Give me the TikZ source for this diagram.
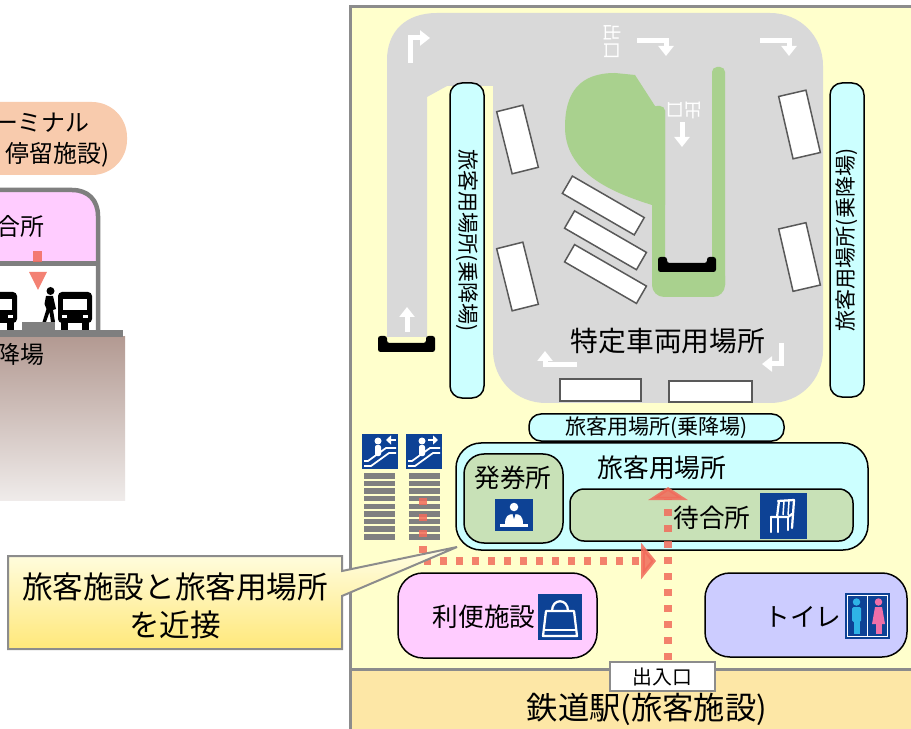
\documentclass[tikz,border=0pt]{standalone}
\usepackage{fontspec}
\setmainfont{Noto Sans CJK JP}
\usepackage{xcolor}
\usetikzlibrary{arrows.meta}

\definecolor{siteyellow}{HTML}{FFFFCC}
\definecolor{roadgray}{HTML}{D9D9D9}
\definecolor{islandgreen}{HTML}{A9D18E}
\definecolor{baygray}{HTML}{595959}
\definecolor{padcyan}{HTML}{CCFFFF}
\definecolor{boothgreen}{HTML}{C8E1B7}
\definecolor{shoppink}{HTML}{FFCCFF}
\definecolor{wclav}{HTML}{CCCCFF}
\definecolor{stationtan}{HTML}{FDE7A6}
\definecolor{framegray}{HTML}{8C8C8C}
\definecolor{iconblue}{HTML}{0D4295}
\definecolor{routered}{HTML}{F26B5B}
\definecolor{termpeach}{HTML}{F8CBAD}
\definecolor{termgray}{HTML}{7F7F7F}
\definecolor{groundtop}{HTML}{B39A92}
\definecolor{groundbot}{HTML}{EFEBEA}
\definecolor{stairgray}{HTML}{808080}
\definecolor{calltop}{HTML}{FFFEE6}
\definecolor{callbot}{HTML}{FFE87A}
\definecolor{manblue}{HTML}{2EB4E6}
\definecolor{ladypink}{HTML}{EE6FA8}

\begin{document}
\begin{tikzpicture}[
  x=0.2mm,y=-0.2mm,
  bay/.style={draw=baygray,fill=white,line width=0.3mm,inner sep=0pt},
  pad/.style={draw=black,fill=padcyan,rounded corners=2.4mm,line width=0.3mm,
              inner sep=0pt,font=\fontsize{12}{14}\selectfont},
  room/.style={draw=black,line width=0.3mm,inner sep=0pt},
  lbl/.style={inner sep=0pt,font=\fontsize{14.6}{17}\selectfont},
  termlbl/.style={inner sep=0pt,anchor=east,font=\fontsize{13.6}{16}\selectfont},
  roadlbl/.style={inner sep=0pt,text=white,font=\fontsize{10.5}{12}\selectfont},
  roadarrow/.style={draw=white,line width=1mm,-{Triangle[length=2mm,width=3mm]}},
  route/.style={draw=routered,opacity=0.85,line width=1.5mm,dash pattern=on 1.4mm off 1.8mm},
  stopbar/.style={fill=black,rounded corners=0.5mm},
  busfront/.pic={
    \fill[rounded corners=0.8mm] (0,2) rectangle (34,33);
    \fill (3,30) rectangle (10,40);
    \fill (24,30) rectangle (31,40);
    \fill[white] (5,9) rectangle (29,20);
    \fill[white] (4,25) rectangle (9,28);
    \fill[white] (25,25) rectangle (30,28);
  },
  escalator/.pic={
    \fill[iconblue] (0,0) rectangle (36,35);
    \fill[white] (16,7) circle (0.7mm);
    \fill[white,rounded corners=0.4mm] (13,11) rectangle (19,22);
    \draw[white,line width=0.35mm] (2,32) -- (9,32) -- (27,19) -- (34,19);
    \draw[white,line width=0.35mm] (2,27) -- (6,27) -- (24,14) -- (34,14);
  }
]
\useasboundingbox (0,0) rectangle (911,729);
\clip (0,0) rectangle (911,729);
\fill[white] (0,0) rectangle (911,729);

\fill[termpeach,rounded corners=7mm] (-80,102) rectangle (127,175);
\node[termlbl] (termname) at (90,123) {ーミナル};
\node[termlbl] (termkind) at (110,155) {停留施設)};
\fill[shoppink] (-10,190) -- (72,190) .. controls (88,190) and (98,200) .. (98,216) -- (98,264) -- (-10,264) -- cycle;
\fill[white] (-10,264) rectangle (98,331);
\draw[termgray,line width=0.9mm] (-10,190) -- (72,190) .. controls (88,190) and (98,200) .. (98,216) -- (98,331);
\draw[termgray,line width=1mm] (-10,264) -- (98,264);
\node[termlbl] (termwait) at (45,226) {合所};
\fill[routered,opacity=0.85] (33,251) rectangle (42,262);
\fill[routered,opacity=0.85] (29,272) -- (47,272) -- (38,290) -- cycle;
\pic (busa) at (-17,290) {busfront};
\pic (busb) at (58,290) {busfront};
\fill (50.5,291) circle (0.8mm);
\fill (46,296) -- (53,296) -- (56,309) -- (53,310) -- (55,322) -- (51,322) -- (49.5,312) -- (46,322) -- (42.5,322) -- (46.5,309) -- (44.5,304) -- cycle;
\fill[stairgray] (22,322) rectangle (55,331);
\shade[top color=groundtop,bottom color=groundbot] (-5,337) rectangle (125,500);
\draw[termgray,line width=1.4mm] (-10,333.5) -- (123,333.5);
\node[termlbl] (termbay) at (45,354) {降場};

\filldraw[fill=siteyellow,draw=framegray,line width=0.6mm] (350,7) rectangle (914,735);

\fill[roadgray] (387,337) -- (387,60) .. controls (387,32) and (405,13) .. (437,13) -- (770,13)
  .. controls (800,13) and (823,36) .. (823,66) -- (823,350) .. controls (823,380) and (800,403) .. (770,403)
  -- (546,403) .. controls (516,403) and (493,380) .. (493,350) -- (493,86) -- (447,86) -- (427,97) -- (427,337) -- cycle;

\fill[islandgreen] (652,205) .. controls (610,192) and (565,172) .. (565,127) .. controls (565,92) and (580,73) .. (615,73)
  -- (635,75) -- (655,106) -- (665,110) -- (665,205) -- cycle;
\fill[islandgreen,rounded corners=1mm] (652,106) rectangle (665,290);
\fill[islandgreen,rounded corners=1mm] (712,67) rectangle (725,290);
\fill[islandgreen,rounded corners=2.4mm] (652,264) rectangle (725,297);

\fill[stopbar] (378,336) -- (387,336) -- (387,343) -- (426,343) -- (426,336) -- (435,336) -- (435,352) -- (378,352) -- cycle;
\fill[stopbar] (658,257) -- (667,257) -- (667,263) -- (707,263) -- (707,257) -- (716,257) -- (716,272) -- (658,272) -- cycle;

\node[bay,minimum width=5.4mm,minimum height=12.8mm,rotate=14] (bayw1) at (517.5,139.5) {};
\node[bay,minimum width=5.4mm,minimum height=12.8mm,rotate=14] (bayw2) at (517.5,276.5) {};
\node[bay,minimum width=5.6mm,minimum height=12.8mm,rotate=13] (baye1) at (799.5,124.5) {};
\node[bay,minimum width=5.6mm,minimum height=12.8mm,rotate=13] (baye2) at (799.5,257) {};
\node[bay,minimum width=16.6mm,minimum height=4mm,rotate=-30] (bayd1) at (603.3,205.5) {};
\node[bay,minimum width=16.6mm,minimum height=4mm,rotate=-30] (bayd2) at (605.5,240.3) {};
\node[bay,minimum width=16.6mm,minimum height=4mm,rotate=-30] (bayd3) at (605.5,274) {};
\node[bay,minimum width=16.2mm,minimum height=4.4mm] (bays1) at (600.5,390) {};
\node[bay,minimum width=16.6mm,minimum height=4.2mm] (bays2) at (710.5,391.5) {};

\draw[roadarrow] (410.5,63) -- (410.5,38) -- (430,38);
\draw[roadarrow] (637,41) -- (666,41) -- (666,56);
\draw[roadarrow] (760,41) -- (789,41) -- (789,56);
\draw[roadarrow] (682,122) -- (682,147);
\draw[roadarrow] (407,332) -- (407,307);
\draw[roadarrow] (577,365) -- (545,365) -- (545,351);
\draw[roadarrow] (781,343) -- (781,364) -- (762,364);
\node[roadlbl,rotate=-90] (exitn) at (612,42) {出口};
\node[roadlbl,rotate=180] (exitc) at (684,110) {出口};
\node[inner sep=0pt,font=\fontsize{15.8}{18}\selectfont] (busyard) at (668,341) {特定車両用場所};

\node[pad,rotate=-90,minimum width=63mm,minimum height=6.8mm] (padw) at (467,240.5) {旅客用場所(乗降場)};
\node[pad,rotate=90,minimum width=62.8mm,minimum height=6.8mm] (pade) at (847,240) {旅客用場所(乗降場)};
\node[pad,minimum width=51mm,minimum height=5.4mm] (pads) at (656.5,427.5) {旅客用場所(乗降場)};

\node[room,fill=padcyan,rounded corners=5mm,minimum width=82.4mm,minimum height=21.4mm] (hall) at (662,496.5) {};
\node[lbl,font=\fontsize{14.7}{17}\selectfont] (hallname) at (662,468) {旅客用場所};
\node[room,fill=boothgreen,rounded corners=4mm,minimum width=19.8mm,minimum height=17.8mm] (ticket) at (513.5,498.5) {};
\node[lbl] (ticketname) at (513,478) {発券所};
\node[room,fill=boothgreen,rounded corners=2.8mm,minimum width=56.6mm,minimum height=10.4mm] (lounge) at (711.5,515) {};
\node[lbl] (loungename) at (712,518) {待合所};

\begin{scope}[shift={(495,499)}]
  \fill[iconblue] (0,0) rectangle (38,32);
  \fill[white] (19,8) circle (0.85mm);
  \fill[white] (10,25) .. controls (10,17) and (13,15) .. (19,15) .. controls (25,15) and (28,17) .. (28,25) -- cycle;
  \fill[iconblue] (17.5,15) -- (20.5,15) -- (19,20) -- cycle;
  \fill[white] (5,25) rectangle (33,28);
\end{scope}
\begin{scope}[shift={(760,493)}]
  \fill[iconblue] (0,0) rectangle (47,46);
  \draw[white,line width=0.45mm,line cap=round] (18,8) -- (34,7);
  \draw[white,line width=0.45mm,line cap=round] (19,8) -- (17,24);
  \draw[white,line width=0.45mm,line cap=round] (34,7) -- (32,35);
  \draw[white,line width=0.3mm] (24,8) -- (23,22);
  \draw[white,line width=0.3mm] (29,8) -- (28,22);
  \draw[white,line width=0.45mm,line cap=round] (11,24) -- (28,24) -- (32,21);
  \draw[white,line width=0.45mm,line cap=round] (11,24) -- (11,39);
  \draw[white,line width=0.45mm,line cap=round] (18,24) -- (18,39);
  \draw[white,line width=0.45mm,line cap=round] (28,24) -- (28,37);
\end{scope}

\foreach \k in {0,...,8} {
  \fill[stairgray] (364,{473+7.63*\k}) rectangle (395,{478.6+7.63*\k});
  \fill[stairgray] (409,{473+7.63*\k}) rectangle (440,{478.6+7.63*\k});
}
\pic (escdown) at (362,434) {escalator};
\pic (escup) at (406,434) {escalator};
\draw[white,line width=0.35mm,-{Triangle[length=1mm,width=1.8mm]}] (396,440) -- (386,440);
\draw[white,line width=0.35mm,-{Triangle[length=1mm,width=1.8mm]}] (428,440) -- (438,440);

\node[room,fill=shoppink,rounded corners=5mm,minimum width=39.8mm,minimum height=17mm] (shop) at (497.5,615.5) {};
\node[lbl] (shopname) at (484,617) {利便施設};
\begin{scope}[shift={(538,594)}]
  \fill[iconblue] (0,0) rectangle (44,46);
  \draw[white,line width=0.45mm,line join=round] (8,17) -- (36,17) -- (39,42) -- (5,42) -- cycle;
  \draw[white,line width=0.45mm] (14,17) .. controls (14,4) and (30,4) .. (30,17);
  \draw[white,line width=0.3mm] (6,36) -- (38,36);
\end{scope}
\node[room,fill=wclav,rounded corners=5mm,minimum width=40.4mm,minimum height=16.8mm] (wc) at (806,615) {};
\node[lbl] (wcname) at (803,617) {トイレ};
\begin{scope}[shift={(845,593)}]
  \fill[iconblue] (0,0) rectangle (45,46);
  \draw[white,line width=0.25mm] (2.5,2.5) rectangle (42.5,43.5);
  \draw[white,line width=0.3mm] (22.5,3) -- (22.5,43);
  \fill[manblue] (11.5,9) circle (0.75mm);
  \fill[manblue,rounded corners=0.3mm] (7,14) rectangle (16,29);
  \fill[manblue] (8.5,28) rectangle (14.5,41);
  \fill[ladypink] (33.5,9) circle (0.75mm);
  \fill[ladypink] (30,14) -- (37,14) -- (40,31) -- (27,31) -- cycle;
  \fill[ladypink] (30.5,30) rectangle (36.5,41);
\end{scope}

\filldraw[fill=stationtan,draw=framegray,line width=0.6mm] (350,669) rectangle (914,735);
\node[inner sep=0pt,font=\fontsize{17.8}{20}\selectfont] (station) at (647,709) {鉄道駅(旅客施設)};

\coordinate (stairtop) at (423,498);
\coordinate (bend) at (423,561);
\coordinate (hallfront) at (656,561);
\coordinate (gate) at (668,660);
\coordinate (loungeentry) at (668,487);
\draw[route,-{Triangle[length=3mm,width=7.2mm]}] (stairtop) -- (bend) -- (hallfront);
\draw[route,-{Triangle[length=2.6mm,width=7.8mm]}] (gate) -- (loungeentry);

\node[draw=framegray,fill=white,line width=0.45mm,minimum width=21mm,minimum height=5.8mm,inner sep=0pt,
      font=\fontsize{11.3}{13}\selectfont] (exit) at (662.5,676.5) {出入口};

\shadedraw[top color=calltop,bottom color=callbot,draw=framegray,line width=0.4mm]
  (8,556) -- (342,556) -- (342,571) -- (457,547) -- (342,596) -- (342,649) -- (8,649) -- cycle;
\node[inner sep=0pt,font=\fontsize{17.4}{20}\selectfont] (calla) at (175,587) {旅客施設と旅客用場所};
\node[inner sep=0pt,font=\fontsize{17.4}{20}\selectfont] (callb) at (175,625) {を近接};
\end{tikzpicture}
\end{document}
